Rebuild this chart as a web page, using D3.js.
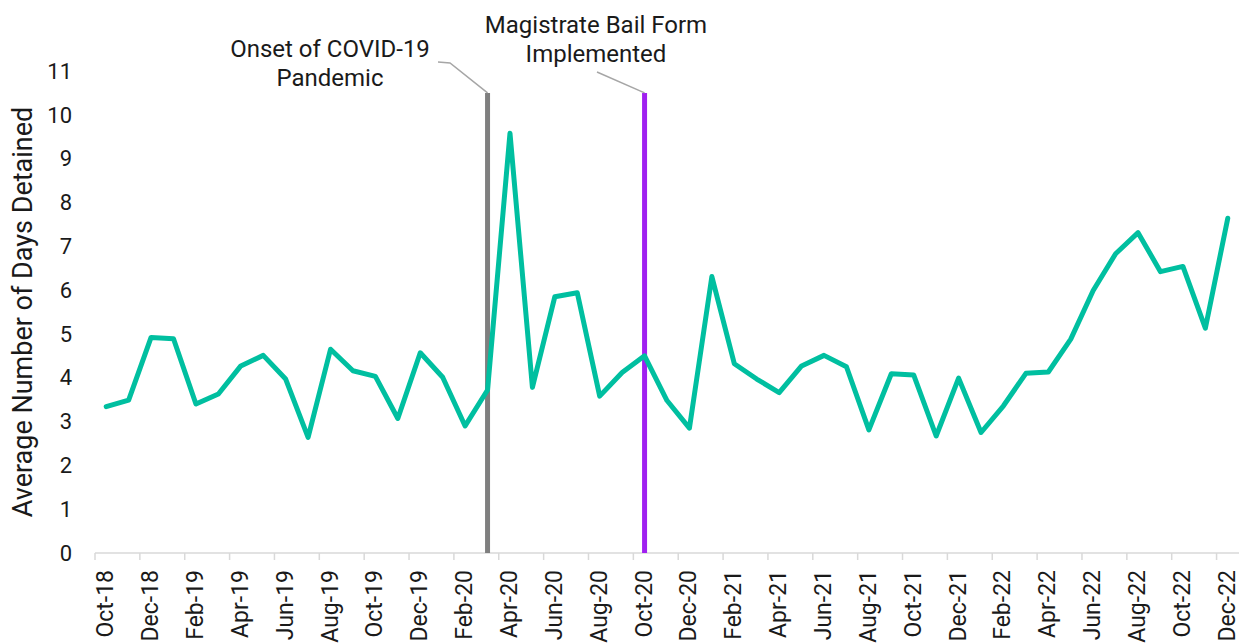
<!DOCTYPE html>
<html>
<head>
<meta charset="utf-8">
<script src="https://cdn.jsdelivr.net/npm/d3@7"></script>
<style>
  html, body { margin: 0; padding: 0; background: #fff; }
  svg { display: block; font-family: Roboto, "Noto Sans", sans-serif; }
</style>
</head>
<body>
<svg id="chart" width="1239" height="643"></svg>
<script>
const categories = [
  "Oct-18","Nov-18","Dec-18","Jan-19","Feb-19","Mar-19","Apr-19","May-19","Jun-19","Jul-19",
  "Aug-19","Sep-19","Oct-19","Nov-19","Dec-19","Jan-20","Feb-20","Mar-20","Apr-20","May-20",
  "Jun-20","Jul-20","Aug-20","Sep-20","Oct-20","Nov-20","Dec-20","Jan-21","Feb-21","Mar-21",
  "Apr-21","May-21","Jun-21","Jul-21","Aug-21","Sep-21","Oct-21","Nov-21","Dec-21","Jan-22",
  "Feb-22","Mar-22","Apr-22","May-22","Jun-22","Jul-22","Aug-22","Sep-22","Oct-22","Nov-22","Dec-22"];
const avgDays = [3.34, 3.49, 4.92, 4.89, 3.40, 3.63, 4.27, 4.51, 3.97, 2.64,
                 4.65, 4.16, 4.03, 3.07, 4.57, 4.01, 2.90, 3.72, 9.58, 3.78,
                 5.85, 5.94, 3.58, 4.12, 4.50, 3.48, 2.85, 6.31, 4.32, 3.97,
                 3.66, 4.27, 4.51, 4.25, 2.81, 4.09, 4.06, 2.67, 3.99, 2.75,
                 3.36, 4.10, 4.13, 4.88, 5.99, 6.83, 7.31, 6.42, 6.54, 5.13, 7.64];
const yTicks = [0,1,2,3,4,5,6,7,8,9,10,11];
const eventMonths = ["Mar-20", "Oct-20"];
const eventLabels = [["Onset of COVID-19", "Pandemic"], ["Magistrate Bail Form", "Implemented"]];
const eventColors = ["#7f7f7f", "#a020f0"];
const eventTop = 10.5;
const yTitle = "Average Number of Days Detained";

const svg = d3.select("#chart");
const mLeft = 95, mRight = 1239, mTop = 71, mBottom = 553;

const x = d3.scaleBand().domain(categories).range([mLeft, mRight]).paddingInner(0).paddingOuter(0);
const y = d3.scaleLinear().domain([0, 11]).range([mBottom, mTop]);
const cx = d => x(d) + x.bandwidth() / 2;

// x axis
const xAxisG = svg.append("g").attr("transform", `translate(0,${mBottom})`);
xAxisG.append("line").attr("x1", mLeft).attr("x2", mRight).attr("y1", 0).attr("y2", 0)
  .attr("stroke", "#d9d9d9").attr("stroke-width", 1.5);
const tickCats = categories.filter((d, i) => i % 2 === 0);
xAxisG.selectAll("line.tk").data(tickCats).join("line").attr("class", "tk")
  .attr("x1", d => x(d)).attr("x2", d => x(d)).attr("y1", 0).attr("y2", 7)
  .attr("stroke", "#d9d9d9").attr("stroke-width", 1.5);
xAxisG.selectAll("text").data(tickCats).join("text")
  .attr("transform", d => `translate(${cx(d) + 7},17) rotate(-90)`)
  .attr("text-anchor", "end")
  .attr("font-size", 23).attr("fill", "#1a1a1a")
  .text(d => d);

// y axis labels
svg.append("g").selectAll("text").data(yTicks).join("text")
  .attr("x", 72).attr("y", d => y(d)).attr("dy", "0.35em")
  .attr("text-anchor", "end").attr("font-size", 22).attr("fill", "#1a1a1a")
  .text(d => d);

svg.append("text")
  .attr("transform", `translate(32,${(mTop + mBottom) / 2}) rotate(-90)`)
  .attr("text-anchor", "middle").attr("font-size", 27).attr("fill", "#1a1a1a")
  .text(yTitle);

// event lines
eventMonths.forEach((m, i) => {
  svg.append("line").attr("x1", cx(m)).attr("x2", cx(m))
    .attr("y1", y(eventTop)).attr("y2", mBottom)
    .attr("stroke", eventColors[i]).attr("stroke-width", 5);
});

// data line
const line = d3.line().x((d, i) => cx(categories[i])).y(d => y(d));
svg.append("path").datum(avgDays).attr("d", line)
  .attr("fill", "none").attr("stroke", "#00bfa0").attr("stroke-width", 5)
  .attr("stroke-linejoin", "round").attr("stroke-linecap", "round");

// annotations
const ann = svg.append("g").attr("font-size", 24).attr("fill", "#1a1a1a").attr("text-anchor", "middle");
ann.append("text").attr("x", 330).attr("y", 57).text(eventLabels[0][0]);
ann.append("text").attr("x", 330).attr("y", 86).text(eventLabels[0][1]);
ann.append("text").attr("x", 596).attr("y", 33).text(eventLabels[1][0]);
ann.append("text").attr("x", 596).attr("y", 62).text(eventLabels[1][1]);
svg.append("polyline")
  .attr("points", `438,62 450,63 ${cx(eventMonths[0])},${y(eventTop)}`)
  .attr("fill", "none").attr("stroke", "#a6a6a6").attr("stroke-width", 1.5);
svg.append("polyline")
  .attr("points", `597,72 ${cx(eventMonths[1])},${y(eventTop)}`)
  .attr("fill", "none").attr("stroke", "#a6a6a6").attr("stroke-width", 1.5);
</script>
</body>
</html>
